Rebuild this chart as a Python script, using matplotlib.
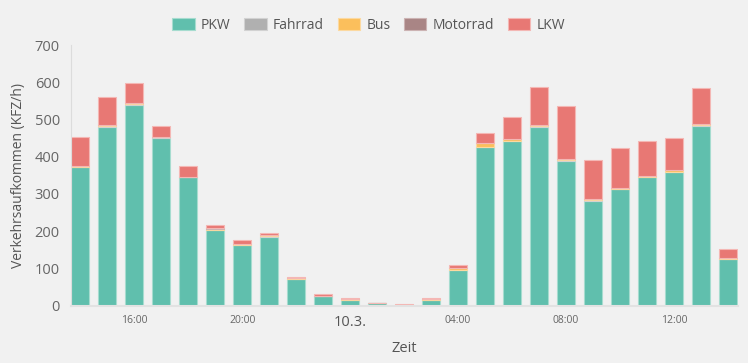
"""
Verkehrsaufkommen pro Stunde, gestapelt nach Fahrzeugart
"""

import matplotlib.pyplot as plt
import numpy as np

plt.rcParams['font.family'] = ['Open Sans', 'DejaVu Sans']

# one bar per hour, 14:00 (9.3.) to 14:00 (10.3.)
stunden = ['14:00', '15:00', '16:00', '17:00', '18:00', '19:00', '20:00', '21:00',
           '22:00', '23:00', '10.3.', '01:00', '02:00', '03:00', '04:00', '05:00',
           '06:00', '07:00', '08:00', '09:00', '10:00', '11:00', '12:00', '13:00', '14:00']
tick_labels = ['16:00', '20:00', '10.3.', '04:00', '08:00', '12:00']

pkw = [371, 481, 540, 451, 344, 203, 163, 185, 71, 26, 15, 7, 2, 16, 96,
       425, 441, 481, 389, 282, 313, 344, 360, 483, 125]
fahrrad = [1, 1, 1, 1, 0, 1, 0, 1, 0, 0, 1, 0, 0, 0, 0,
           1, 0, 1, 1, 1, 0, 1, 0, 1, 0]
bus = [3, 2, 4, 2, 2, 2, 2, 3, 2, 0, 2, 0, 0, 2, 5,
       10, 6, 3, 5, 4, 4, 3, 4, 5, 2]
motorrad = [0, 0, 0, 0, 0, 1, 0, 0, 0, 0, 0, 0, 0, 0, 0,
            0, 0, 0, 0, 0, 0, 0, 0, 0, 0]
lkw = [79, 77, 54, 29, 28, 10, 10, 6, 4, 5, 3, 0, 2, 1, 7,
       28, 60, 103, 142, 105, 107, 94, 87, 95, 24]

serien = [('PKW', pkw, '#60bfad', '#a6dccf'),
          ('Fahrrad', fahrrad, '#b0b0b0', '#d2d2d2'),
          ('Bus', bus, '#fbbf5c', '#fcd9a0'),
          ('Motorrad', motorrad, '#a98585', '#ccb3b3'),
          ('LKW', lkw, '#e87874', '#f4b7b4')]

BG = '#f1f1f1'
fig = plt.figure(figsize=(7.48, 3.63), dpi=100, facecolor=BG)
ax = fig.add_axes([0.0949, 0.1584, 0.8917, 0.7176], facecolor=BG)

x = np.arange(len(stunden))
unten = np.zeros(len(stunden))
for name, werte, farbe, rand in serien:
    ax.bar(x, werte, width=0.667, bottom=unten, color=farbe, edgecolor=rand,
           linewidth=0.8, label=name)
    unten += np.array(werte)

ax.set_xlim(-0.35, len(stunden) - 0.62)
ax.set_ylim(0, 700)
ax.set_yticks(range(0, 701, 100))
ax.tick_params(axis='y', length=0, pad=8, labelsize=10.5, labelcolor='#666666')

ticks = [stunden.index(t) for t in tick_labels]
ax.set_xticks(ticks)
ax.set_xticklabels(tick_labels)
ax.tick_params(axis='x', length=0, pad=7, labelsize=7.5, labelcolor='#666666')
for lab in ax.get_xticklabels():
    if lab.get_text() == '10.3.':
        lab.set_fontsize(10.5)
        lab.set_color('#555555')

for s in ['top', 'right']:
    ax.spines[s].set_visible(False)
ax.spines['left'].set_color('#dcdcdc')
ax.spines['bottom'].set_color('#e2e2e2')
ax.spines['bottom'].set_linewidth(1.5)

ax.set_xlabel('Zeit', fontsize=10.5, color='#555555', labelpad=7.5)
ax.set_ylabel('Verkehrsaufkommen (KFZ/h)', fontsize=10, color='#555555', labelpad=6)

fig.legend(loc='upper center', bbox_to_anchor=(0.493, 0.985), ncol=5, frameon=False,
           fontsize=10, labelcolor='#555555', handlelength=1.6, handleheight=0.95,
           handletextpad=0.45, columnspacing=1.0)

fig.savefig('out.png', dpi=100, facecolor=BG)
